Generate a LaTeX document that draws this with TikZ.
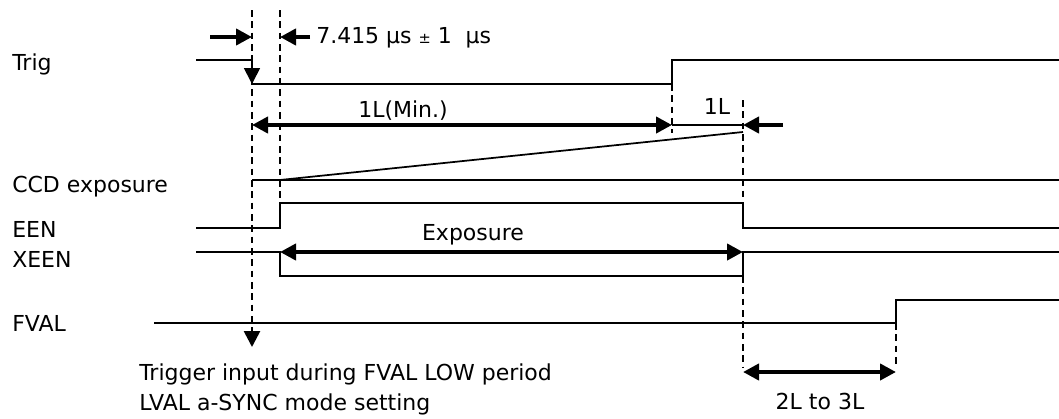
\documentclass[tikz,border=0pt]{standalone}
\usepackage{fontspec}
\setmainfont{DejaVu Sans}
\usetikzlibrary{arrows.meta}

\tikzset{
    sig/.style = {line width = 1.3pt},
    guide/.style = {line width = 2pt, dash pattern = on 5pt off 3.5pt},
    dimline/.style = {line width = 3pt},
    ahead/.tip = {Triangle[length = 12pt, width = 12pt]},
    lbl/.style = {anchor = base west, inner sep = 0pt, font = \fontsize{16.5}{20}\selectfont},
    mid/.style = {anchor = base, inner sep = 0pt, font = \fontsize{16.5}{20}\selectfont},
}

\begin{document}
\begin{tikzpicture}[x = 0.75pt, y = -0.75pt]
    \useasboundingbox (0, 0) rectangle (1059, 418);

    \foreach \name/\txt/\y in {trig/Trig/70, ccd/CCD exposure/192, een/EEN/237, xeen/XEEN/267, fval/FVAL/331} {
        \node [lbl] (\name) at (12, \y) {\txt};
    }

    % signals
    \draw [sig] (196, 60) -- (252, 60);
    \draw [sig, -ahead] (252, 60) -- (252, 84);
    \draw [sig] (252, 84) -- (672, 84) -- (672, 60) -- (1059, 60);
    \draw [sig] (252, 180) -- (1059, 180);
    \draw [sig] (280, 180) -- (743, 132);
    \draw [sig] (196, 228) -- (280, 228) -- (280, 203) -- (743, 203) -- (743, 228) -- (1059, 228);
    \draw [sig] (196, 252) -- (280, 252) -- (280, 276) -- (743, 276) -- (743, 252) -- (1059, 252);
    \draw [sig] (154, 323) -- (896, 323) -- (896, 300) -- (1059, 300);

    % time marks
    \foreach \name/\x/\ya/\yb in {tA/252/10/347, tB/280/10/203, tC/672/84/133, tD/743/100/203, tE/743/276/367, tF/896/323/367} {
        \coordinate (\name-up) at (\x, \ya);
        \coordinate (\name-dn) at (\x, \yb);
    }
    \draw [guide, -ahead] (tA-up) -- (tA-dn);
    \foreach \name in {tB, tC, tD, tE, tF} {
        \draw [guide] (\name-up) -- (\name-dn);
    }

    \coordinate (inA) at (210, 37);
    \coordinate (inB) at (310, 37);
    \draw [dimline, -ahead] (inA) -- (tA-up |- inA);
    \draw [dimline, -ahead] (inB) -- (tB-up |- inB);
    \node [lbl] (delay) at (316, 43) {7.415 µs {\fontsize{11}{13}\selectfont ±} 1\hspace{5pt} µs};

    \coordinate (minA) at (252, 125);
    \coordinate (minB) at (672, 125);
    \coordinate (lineB) at (743, 125);
    \coordinate (lineC) at (783, 125);
    \draw [dimline, ahead-ahead] (minA) -- (minB);
    \draw [sig] (minB) -- (lineB);
    \draw [dimline, -ahead] (lineC) -- (lineB);
    \node [mid] (minL) at (403, 117) {1L(Min.)};
    \node [mid] (oneL) at (717, 114) {1L};

    \coordinate (expA) at (280, 252);
    \coordinate (expB) at (743, 252);
    \draw [dimline, ahead-ahead] (expA) -- (expB);
    \node [mid] (expo) at (473, 240) {Exposure};

    \coordinate (spanA) at (743, 372);
    \coordinate (spanB) at (896, 372);
    \draw [dimline, ahead-ahead] (spanA) -- (spanB);
    \node [mid] (span) at (820, 409) {2L to 3L};

    \node [lbl] (note1) at (139, 380) {Trigger input during FVAL LOW period};
    \node [lbl] (note2) at (139, 410) {LVAL a-SYNC mode setting};
\end{tikzpicture}
\end{document}
